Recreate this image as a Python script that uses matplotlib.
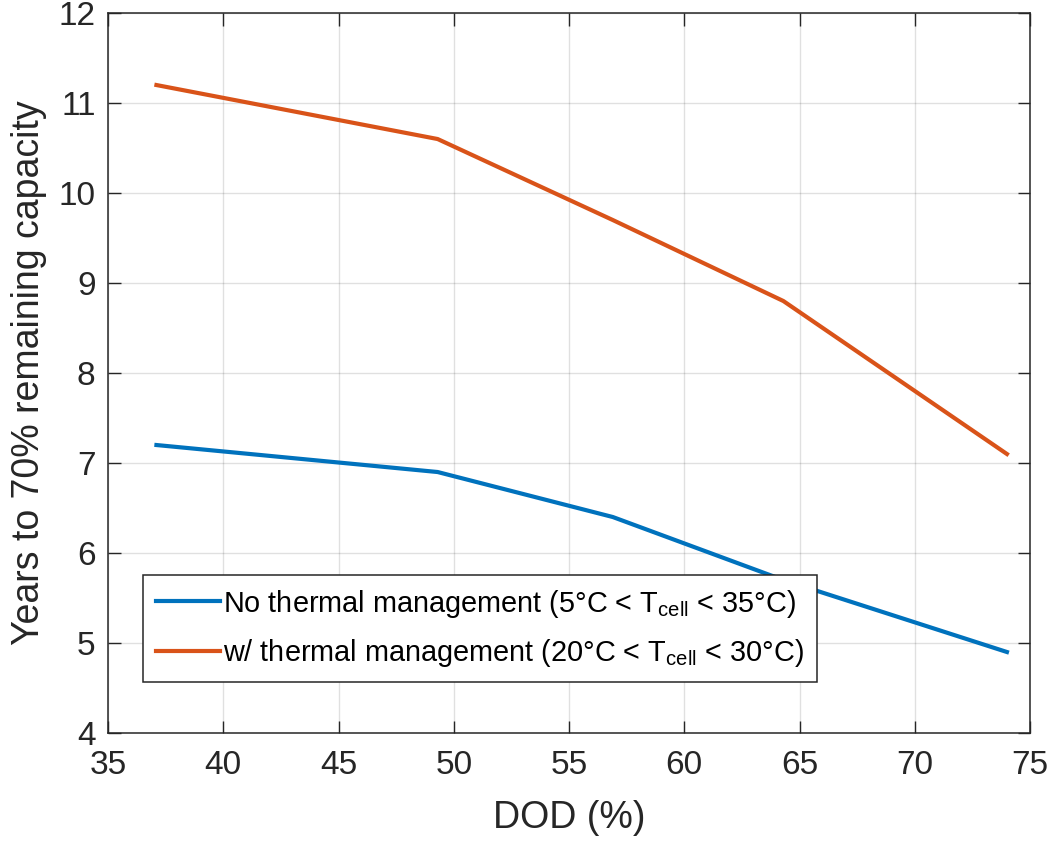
import numpy as np
import matplotlib
matplotlib.use('Agg')
import matplotlib.pyplot as plt

# Data
dod = [37.1, 49.3, 56.9, 64.3, 74.0]
years_no_tm = [7.2, 6.9, 6.4, 5.7, 4.9]
years_tm = [11.2, 10.6, 9.7, 8.8, 7.1]
x_ticks = [35, 40, 45, 50, 55, 60, 65, 70, 75]
y_ticks = [4, 5, 6, 7, 8, 9, 10, 11, 12]
label_no_tm = r'No thermal management (5°C < T$_{\mathrm{cell}}$ < 35°C)'
label_tm = r'w/ thermal management (20°C < T$_{\mathrm{cell}}$ < 30°C)'

plt.rcParams['font.family'] = ['Liberation Sans', 'DejaVu Sans']
plt.rcParams['mathtext.fontset'] = 'custom'
plt.rcParams['mathtext.rm'] = 'Liberation Sans'
plt.rcParams['mathtext.it'] = 'Liberation Sans:italic'

text_col = '#262626'

fig = plt.figure(figsize=(10.55, 8.41), dpi=100)
ax = fig.add_axes([0.1024, 0.1284, 0.8739, 0.8561])

ax.plot(dod, years_no_tm, color='#0072BD', linewidth=3, label=label_no_tm)
ax.plot(dod, years_tm, color='#D95319', linewidth=3, label=label_tm)

ax.set_xlim(35, 75)
ax.set_ylim(4, 12)
ax.set_xticks(x_ticks)
ax.set_yticks(y_ticks)
ax.grid(True, color='#000000', alpha=0.12, linewidth=1)
ax.set_axisbelow(True)

ax.tick_params(direction='in', length=9, width=1, top=True, right=True,
               labelsize=24, colors=text_col)
ax.tick_params(axis='x', pad=12)
ax.tick_params(axis='y', pad=9)
for s in ax.spines.values():
    s.set_color(text_col)
    s.set_linewidth(1.1)

ax.set_xlabel('DOD (%)', fontsize=27, color=text_col, labelpad=14)
ax.set_ylabel('Years to 70% remaining capacity', fontsize=27, color=text_col, labelpad=8)

leg = ax.legend(loc='lower left', bbox_to_anchor=(0.038, 0.071), fontsize=20.8,
                frameon=True, fancybox=False, edgecolor=text_col, framealpha=1,
                handlelength=2.2, handletextpad=0.12, borderpad=0.45,
                labelspacing=0.6, borderaxespad=0)
leg.get_frame().set_linewidth(1.1)

fig.savefig('out.png', dpi=100)
